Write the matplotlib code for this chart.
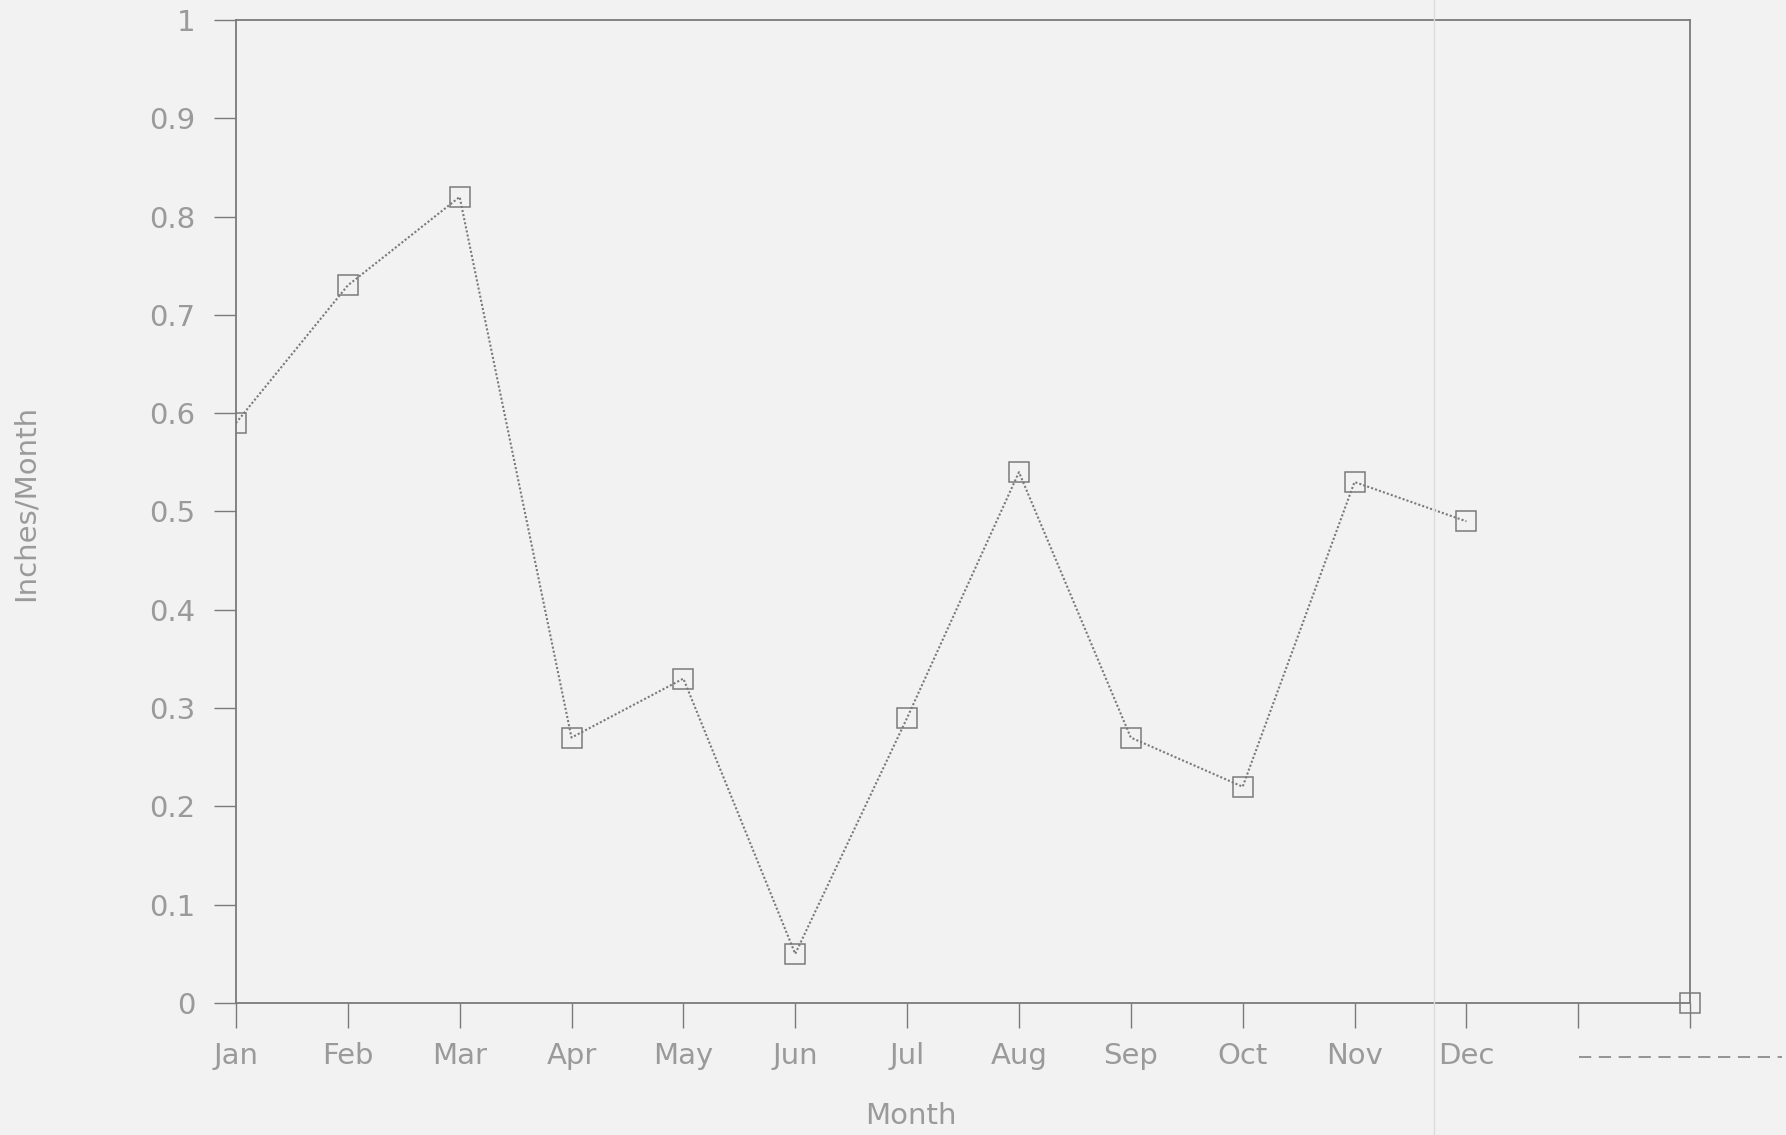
import matplotlib.pyplot as plt
from matplotlib.lines import Line2D

# monthly precipitation, inches per month
months = ['Jan', 'Feb', 'Mar', 'Apr', 'May', 'Jun',
          'Jul', 'Aug', 'Sep', 'Oct', 'Nov', 'Dec']
rain = [0.59, 0.73, 0.82, 0.27, 0.33, 0.05, 0.29, 0.54, 0.27, 0.22, 0.53, 0.49]
# trailing point sitting on the axis end
end_x = [13]
end_y = [0.0]
yticks = [0, 0.1, 0.2, 0.3, 0.4, 0.5, 0.6, 0.7, 0.8, 0.9, 1]
ytick_labels = ['0', '0.1', '0.2', '0.3', '0.4', '0.5', '0.6', '0.7', '0.8', '0.9', '1']

ink = '#7a7a7a'
text_c = '#9a9a9a'
paper = '#f2f2f2'

fig = plt.figure(figsize=(17.86, 11.35), dpi=100, facecolor=paper)
ax = fig.add_axes([0.1321, 0.1163, 0.8142, 0.8661], facecolor=paper)

x = list(range(len(months)))
ax.plot(x, rain, linestyle=(0, (1, 1)), color=ink, linewidth=1.5,
        marker='s', markersize=15, markerfacecolor='none',
        markeredgecolor=ink, markeredgewidth=1.1)
ax.plot(end_x, end_y, linestyle='none', marker='s', markersize=15,
        markerfacecolor='none', markeredgecolor=ink, markeredgewidth=1.1,
        clip_on=False)

ax.set_xlim(0, 13)
ax.set_ylim(0, 1)

for sp in ax.spines.values():
    sp.set_linestyle((0, (1, 1)))
    sp.set_color(ink)
    sp.set_linewidth(1.3)

ax.set_xticks(range(14))
ax.set_xticklabels(months + ['', ''])
ax.set_yticks(yticks)
ax.set_yticklabels(ytick_labels)
ax.tick_params(axis='x', direction='out', length=18, width=1, color=ink,
               labelsize=21, labelcolor=text_c, pad=10)
ax.tick_params(axis='y', direction='out', length=16, width=1, color=ink,
               labelsize=21, labelcolor=text_c, pad=13)

fig.text(0.0146, 0.557, 'Inches/Month', rotation=90, ha='center', va='center',
         fontsize=21, color=text_c)
fig.text(0.510, 0.017, 'Month', ha='center', va='center',
         fontsize=21, color=text_c)

# dashed key sample at lower right
fig.add_artist(Line2D([0.884, 0.998], [0.069, 0.069], transform=fig.transFigure,
                      color=ink, linewidth=1.1, linestyle=(0, (8, 5))))
# faint fold in the sheet
fig.add_artist(Line2D([0.803, 0.803], [0.0, 1.0], transform=fig.transFigure,
                      color='#dcdcdc', linewidth=1.0))

fig.savefig('out.png', dpi=100, facecolor=paper)
